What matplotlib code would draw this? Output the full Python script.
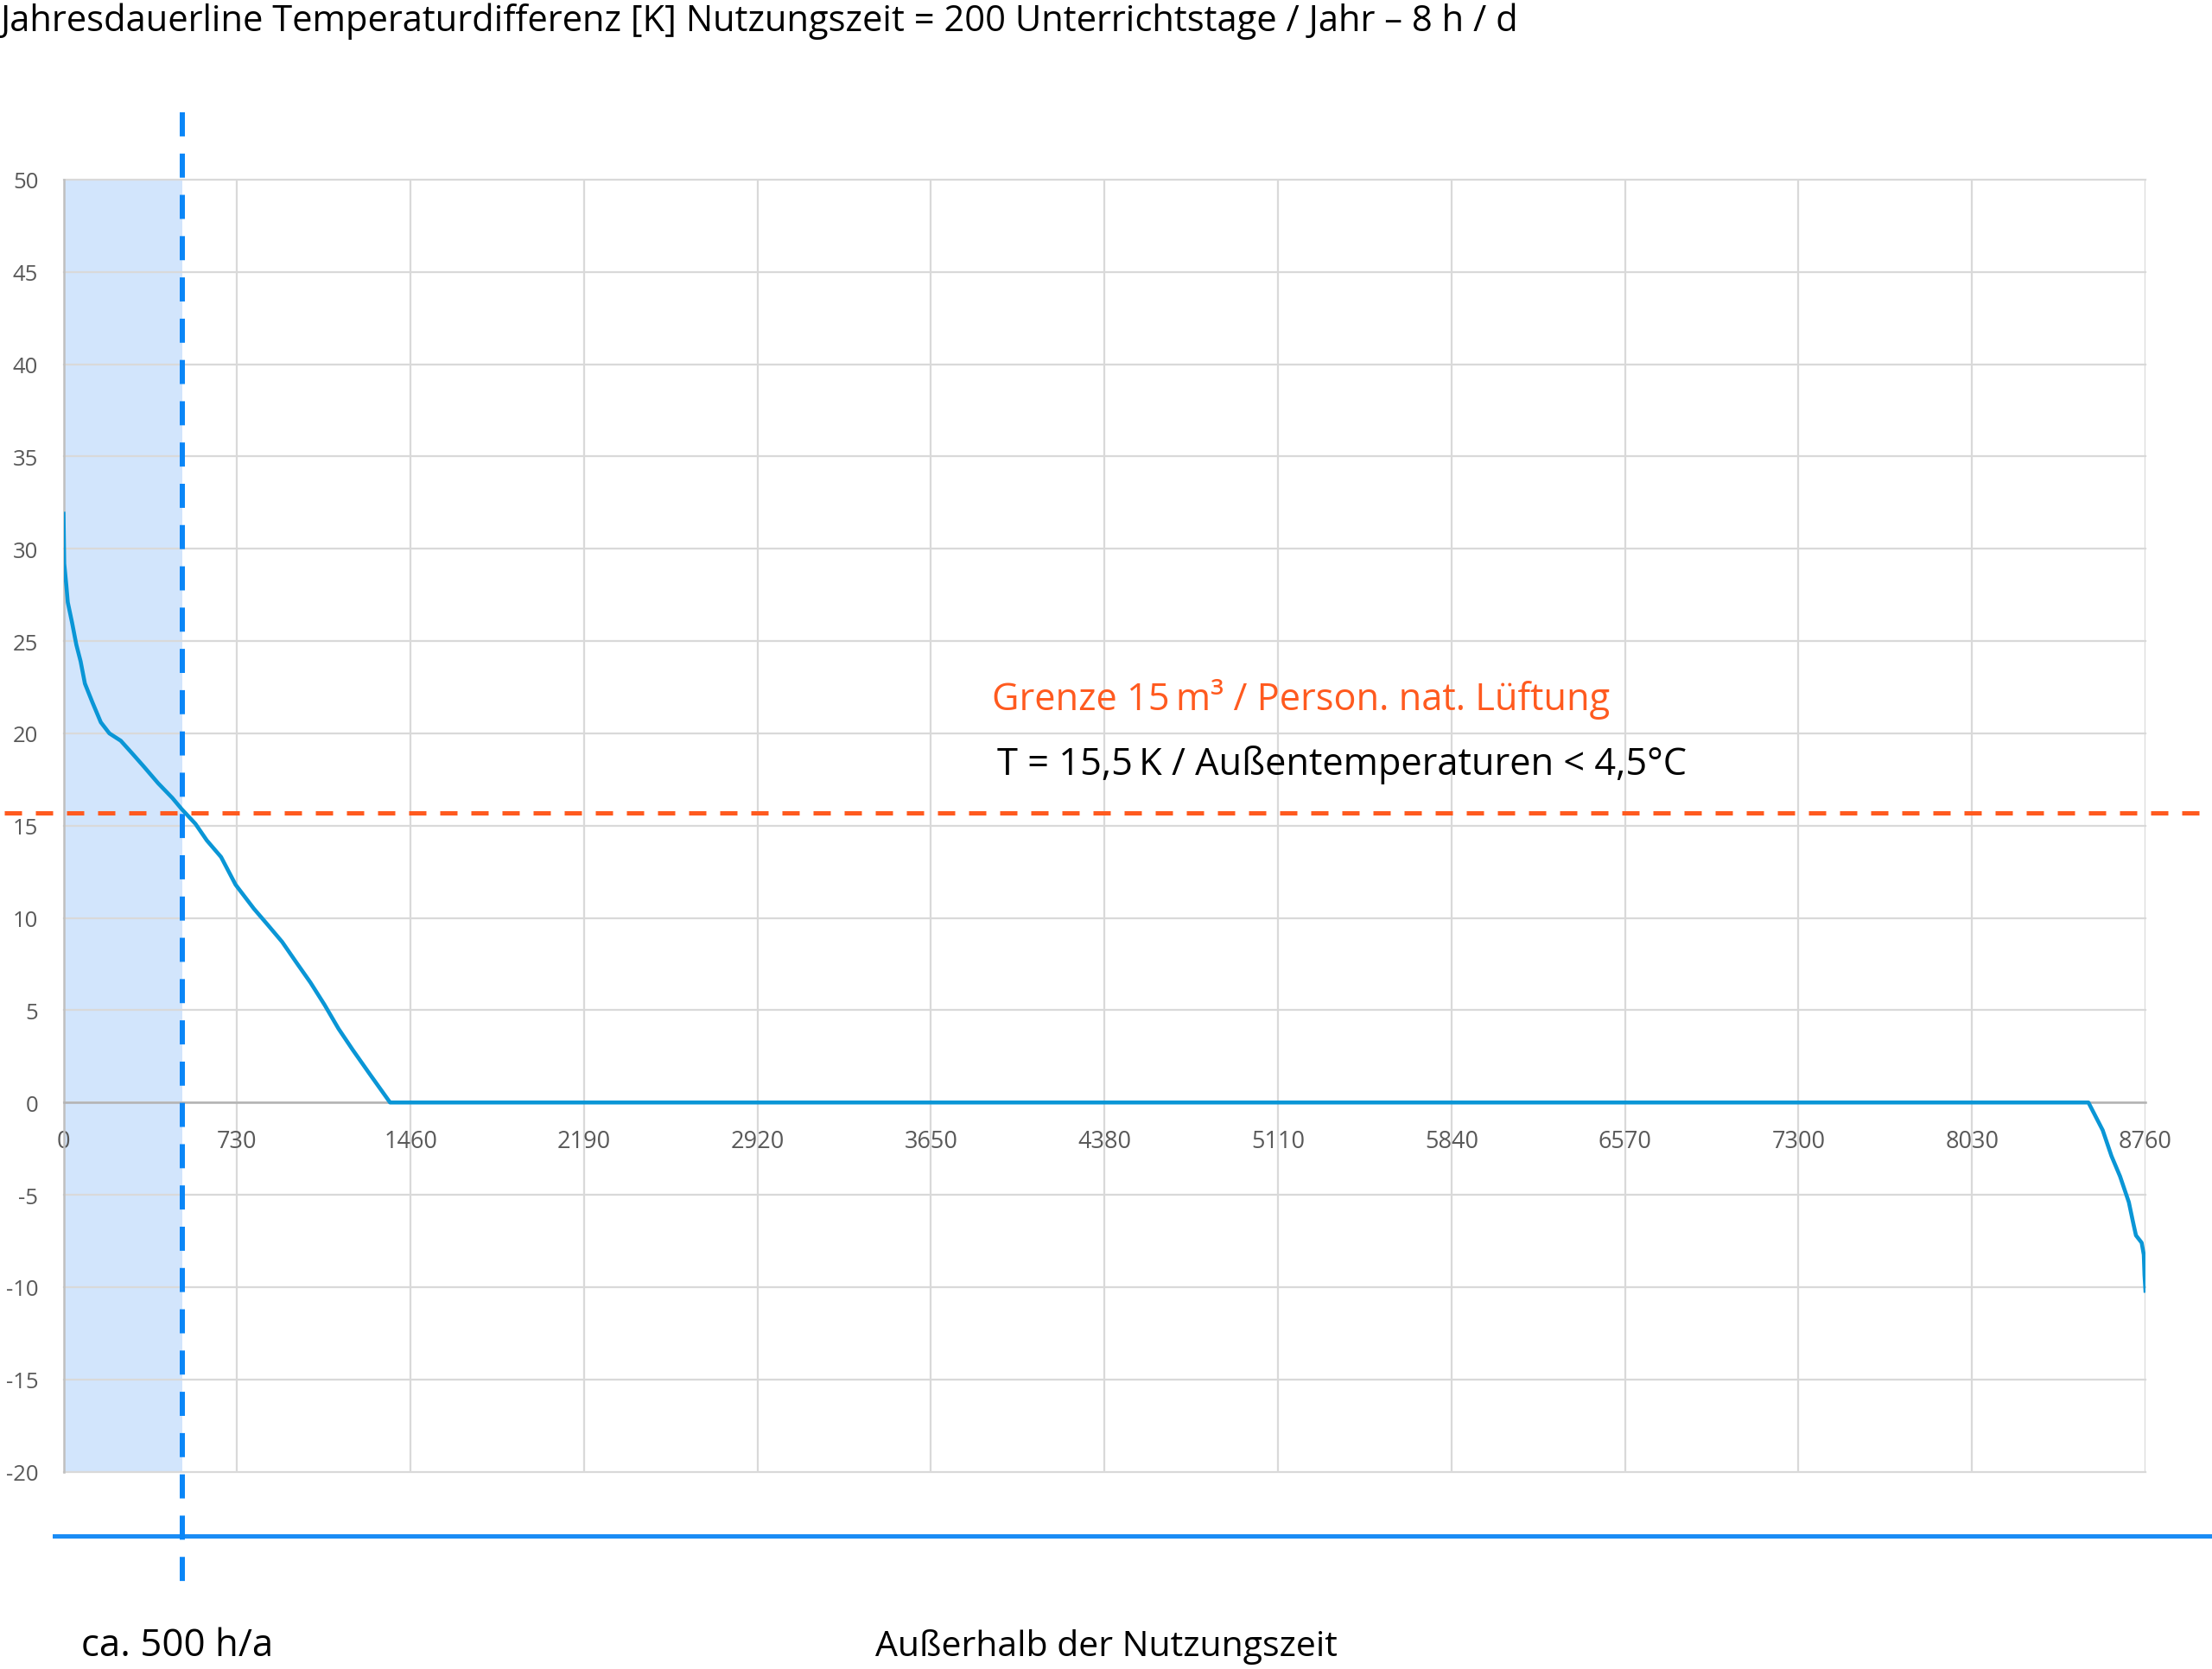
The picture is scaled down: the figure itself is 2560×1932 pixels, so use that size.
import numpy as np
import matplotlib
matplotlib.use("Agg")
import matplotlib.pyplot as plt
import matplotlib.transforms as mtransforms

plt.rcParams["axes.unicode_minus"] = False

# annual duration curve of temperature difference
hours = [0, 3, 12, 18, 36, 54, 72, 90, 121, 157, 193, 241, 290, 338, 398, 458,
         497, 555, 603, 663, 724, 801, 861, 920, 979, 1039, 1098, 1157, 1217,
         1288, 1374, 8520, 8544, 8580, 8617, 8653, 8690, 8708, 8720, 8744,
         8753, 8756, 8760]
delta_t = [31.9, 29.2, 28.0, 27.1, 26.0, 24.8, 23.9, 22.7, 21.7, 20.6, 20.0,
           19.6, 18.9, 18.2, 17.3, 16.5, 15.9, 15.1, 14.2, 13.3, 11.8, 10.5,
           9.6, 8.7, 7.6, 6.5, 5.3, 4.0, 2.85, 1.55, 0.0, 0.0, -0.6, -1.5,
           -2.9, -4.0, -5.4, -6.5, -7.2, -7.6, -8.25, -9.35, -10.2]

x_ticks = list(range(0, 8761, 730))
y_ticks = list(range(-20, 51, 5))
usage_hours = 500
limit_t = 15.7
lower_line_y = -23.5

title = "Jahresdauerline Temperaturdifferenz [K] Nutzungszeit = 200 Unterrichtstage / Jahr \u2013 8 h / d"
label_limit = "Grenze 15\u2009m\u00b3 / Person. nat. L\u00fcftung"
label_temp = "T = 15,5\u2009K / Au\u00dfentemperaturen < 4,5\u00b0C"
label_usage = "ca. 500 h/a"
label_outside = "Au\u00dferhalb der Nutzungszeit"

W, H = 2560, 1933
fig = plt.figure(figsize=(W / 100, H / 100), dpi=100)
ax = fig.add_axes([73.5 / W, 1 - 1704.5 / H, (2483 - 73.5) / W, (1704.5 - 209) / H])

ax.set_xlim(0, 8760)
ax.set_ylim(-20, 50)
ax.set_xticks(x_ticks)
ax.set_yticks(y_ticks)

# grid
ax.grid(True, color="#d9d9d9", linewidth=1.6)
ax.set_axisbelow(True)
for gl in ax.get_xgridlines() + ax.get_ygridlines():
    gl.set_clip_on(False)

for s in ["top", "right"]:
    ax.spines[s].set_visible(False)
ax.spines["left"].set_color("#bfbfbf")
ax.spines["left"].set_linewidth(1.8)
ax.spines["bottom"].set_position(("data", 0))
ax.spines["bottom"].set_color("#b3b3b3")
ax.spines["bottom"].set_linewidth(1.8)

tick_font = ["Open Sans", "DejaVu Sans"]
ax.tick_params(axis="both", length=0, colors="#595959")
ax.tick_params(axis="x", pad=22, labelsize=19.5)
ax.tick_params(axis="y", pad=21, labelsize=18.5)
for lab in ax.get_xticklabels() + ax.get_yticklabels():
    lab.set_fontfamily(tick_font)

# usage period shading
ax.axvspan(0, usage_hours, color="#d2e5fc", zorder=0.3, linewidth=0)

# curve
ax.plot(hours, delta_t, color="#0a96d6", linewidth=3.3, zorder=3, solid_joinstyle="round")

# limit line (orange dashed), extends beyond the axes
trans = mtransforms.blended_transform_factory(ax.transAxes, ax.transData)
ax.plot([-0.0284, 1.04], [limit_t, limit_t], transform=trans, clip_on=False,
        color="#ff5a1f", linewidth=3.6, dashes=(4.0, 3.2), zorder=4)

# usage boundary (blue dashed vertical)
ax.plot([usage_hours, usage_hours], [53.65, -26.5], clip_on=False,
        color="#0a86f7", linewidth=4.3, dashes=(4.67, 3.33), zorder=5)

# lower blue line
ax.plot([-0.0044, 1.04], [lower_line_y, lower_line_y], transform=trans, clip_on=False,
        color="#1a8cf5", linewidth=3.6, zorder=4)

txt_font = ["Open Sans", "DejaVu Sans"]
fig.text(0.0, 1 - 3 / H, title, ha="left", va="top", fontsize=30,
         family=txt_font, color="black")
fig.text(1148 / W, 1 - 822 / H, label_limit, ha="left", va="baseline", fontsize=31.2,
         family=txt_font, color="#ff5a1f")
fig.text(1154 / W, 1 - 897 / H, label_temp, ha="left", va="baseline", fontsize=31.2,
         family=txt_font, color="black")
fig.text(94 / W, 1 - 1917 / H, label_usage, ha="left", va="baseline", fontsize=31.5,
         family=txt_font, color="black")
fig.text(1013 / W, 1 - 1917 / H, label_outside, ha="left", va="baseline", fontsize=29.5,
         family=txt_font, color="black")

fig.savefig("out.png", dpi=100)
